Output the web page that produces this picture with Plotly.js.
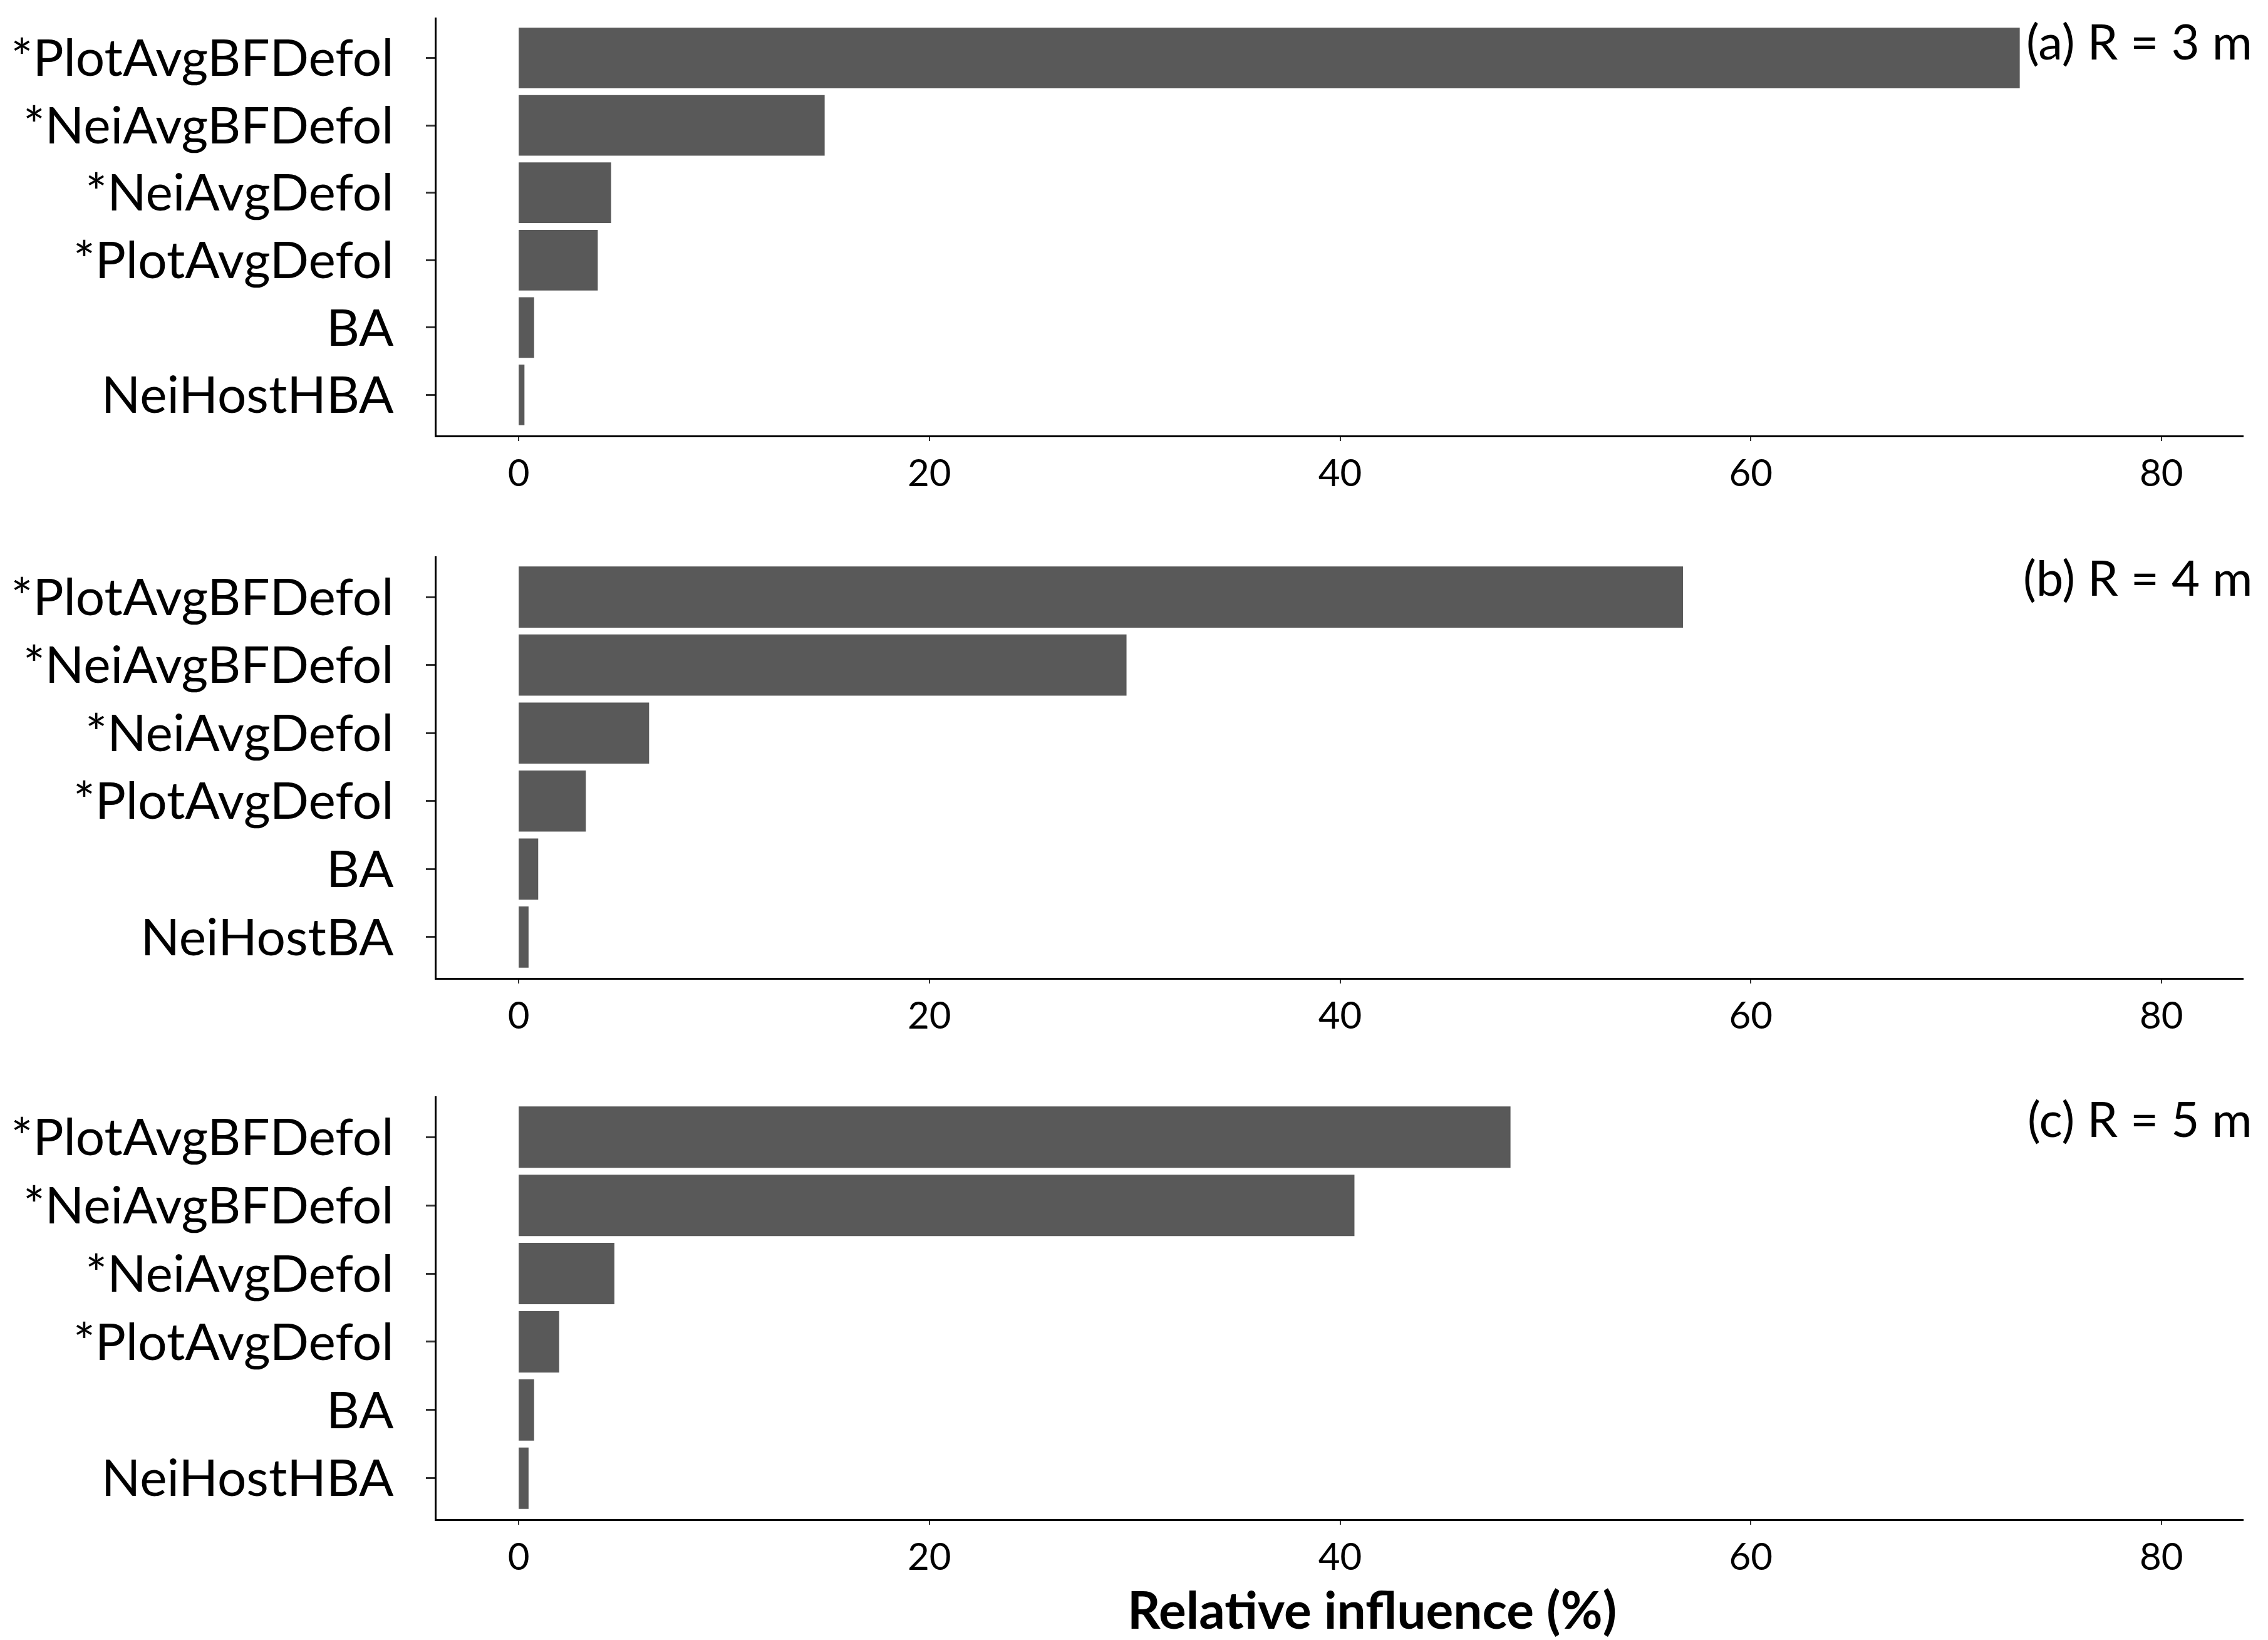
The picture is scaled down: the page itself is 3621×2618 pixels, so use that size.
<!DOCTYPE html>
<html>
<head>
<meta charset="utf-8">
<script src="https://cdn.plot.ly/plotly-3.0.1.min.js"></script>
<style>
  html, body { margin: 0; padding: 0; background: #ffffff; }
  #chart { width: 3621px; height: 2618px; }
</style>
</head>
<body>
<div id="chart"></div>
<script>
// ---- Data ----
const categoriesA = ['*PlotAvgBFDefol', '*NeiAvgBFDefol', '*NeiAvgDefol', '*PlotAvgDefol', 'BA', 'NeiHostHBA'];
const valuesA     = [73.1, 14.9, 4.5, 3.85, 0.75, 0.28];

const categoriesB = ['*PlotAvgBFDefol', '*NeiAvgBFDefol', '*NeiAvgDefol', '*PlotAvgDefol', 'BA', 'NeiHostBA'];
const valuesB     = [56.7, 29.6, 6.35, 3.27, 0.95, 0.48];

const categoriesC = ['*PlotAvgBFDefol', '*NeiAvgBFDefol', '*NeiAvgDefol', '*PlotAvgDefol', 'BA', 'NeiHostHBA'];
const valuesC     = [48.3, 40.7, 4.66, 1.97, 0.75, 0.48];

const panelLabels = ['(a) R = 3 m', '(b) R = 4 m', '(c) R = 5 m'];
const xTickVals   = [0, 20, 40, 60, 80];
const xTitle      = 'Relative influence (%)';

// ---- Layout helpers ----
const W = 3621, H = 2618;
const FONT = 'Lato, "Open Sans", sans-serif';
const BAR_COLOR = '#595959';

function py(pix) { return 1 - pix / H; }   // pixel-from-top -> paper y

const xDomain = [697 / W, 3582 / W];
const panels = [
  { top: 28,   bottom: 695  },
  { top: 888,  bottom: 1561 },
  { top: 1750, bottom: 2425 }
];

function xAxis(anchor) {
  return {
    domain: xDomain, anchor: anchor,
    range: [-4, 84], autorange: false,
    tickmode: 'array', tickvals: xTickVals, ticktext: xTickVals.map(String),
    ticks: 'outside', ticklen: 6, tickwidth: 2, tickcolor: '#333333',
    showline: true, linecolor: '#000000', linewidth: 3, mirror: false,
    showgrid: false, zeroline: false,
    tickfont: { family: FONT, size: 60, color: '#000000' },
    fixedrange: true
  };
}
function yAxis(anchor, cats, panel) {
  return {
    domain: [py(panel.bottom), py(panel.top)], anchor: anchor,
    type: 'category', categoryorder: 'array', categoryarray: cats,
    range: [cats.length - 0.4, -0.6], autorange: false,
    ticks: 'outside', ticklen: 14, tickwidth: 3, tickcolor: '#333333',
    showline: true, linecolor: '#000000', linewidth: 3, mirror: false,
    showgrid: false, zeroline: false,
    tickfont: { family: FONT, size: 82, color: '#000000' },
    ticklabelstandoff: 35,
    fixedrange: true
  };
}

const traces = [
  { type: 'bar', orientation: 'h', x: valuesA, y: categoriesA, xaxis: 'x',  yaxis: 'y',
    marker: { color: BAR_COLOR, line: { width: 0 } }, hoverinfo: 'x+y' },
  { type: 'bar', orientation: 'h', x: valuesB, y: categoriesB, xaxis: 'x2', yaxis: 'y2',
    marker: { color: BAR_COLOR, line: { width: 0 } }, hoverinfo: 'x+y' },
  { type: 'bar', orientation: 'h', x: valuesC, y: categoriesC, xaxis: 'x3', yaxis: 'y3',
    marker: { color: BAR_COLOR, line: { width: 0 } }, hoverinfo: 'x+y' }
];

const labelCenters = [65, 921, 1785];
const annotations = panelLabels.map((t, i) => ({
  text: t, xref: 'paper', yref: 'paper',
  x: 3598 / W, y: py(labelCenters[i]), xanchor: 'right', yanchor: 'middle',
  showarrow: false, font: { family: FONT, size: 78, color: '#000000' }
}));
annotations.push({
  text: '<b>' + xTitle + '</b>', xref: 'paper', yref: 'paper',
  x: 2190 / W, y: 0, xanchor: 'center', yanchor: 'bottom', borderpad: 0,
  showarrow: false, font: { family: FONT, size: 82, color: '#000000' }
});

const layout = {
  width: W, height: H,
  margin: { l: 0, r: 0, t: 0, b: 0, pad: 0 },
  paper_bgcolor: '#ffffff', plot_bgcolor: '#ffffff',
  showlegend: false, bargap: 0.1,
  xaxis:  xAxis('y'),
  yaxis:  yAxis('x',  categoriesA, panels[0]),
  xaxis2: xAxis('y2'),
  yaxis2: yAxis('x2', categoriesB, panels[1]),
  xaxis3: xAxis('y3'),
  yaxis3: yAxis('x3', categoriesC, panels[2]),
  annotations: annotations
};

Plotly.newPlot('chart', traces, layout, { displayModeBar: false, staticPlot: true });
</script>
</body>
</html>
